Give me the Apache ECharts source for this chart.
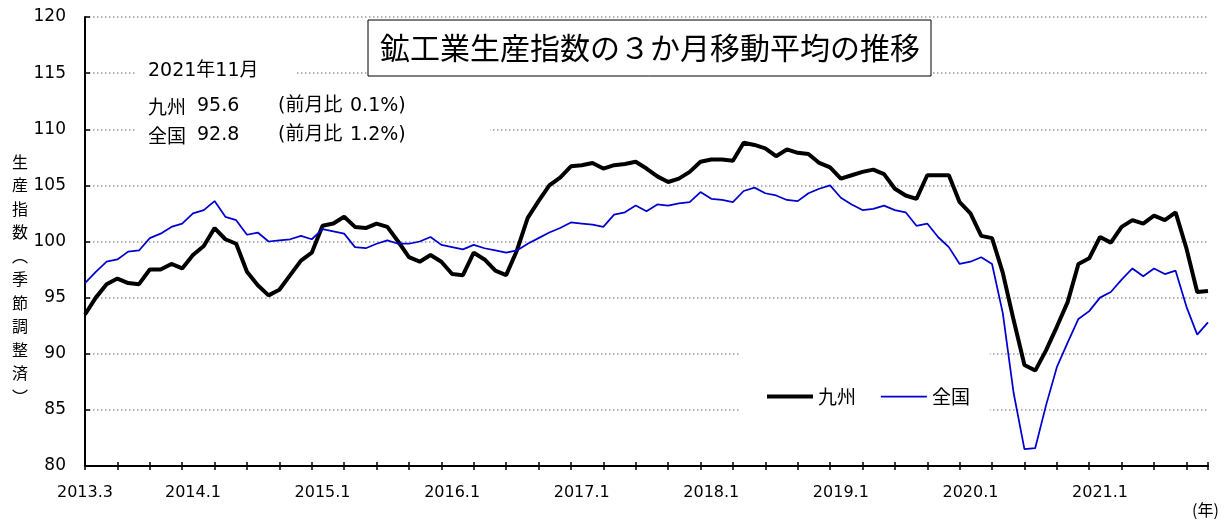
<!DOCTYPE html>
<html>
<head>
<meta charset="utf-8">
<title>鉱工業生産指数の３か月移動平均の推移</title>
<script src="https://cdn.jsdelivr.net/npm/echarts@6/dist/echarts.min.js"></script>
<style>
  html, body { margin: 0; padding: 0; background: #fff; }
  #chart { width: 1224px; height: 522px; }
</style>
</head>
<body>
<div id="chart"></div>
<script>
// 2013.3 〜 2021.11 の月次
const months = [];
for (let y = 2013; y <= 2021; y++) {
  for (let m = 1; m <= 12; m++) {
    if (y === 2013 && m < 3) continue;
    if (y === 2021 && m > 11) continue;
    months.push(y + '.' + m);
  }
}

// 九州（3か月移動平均）
const kyushu = [
  93.5, 95.0, 96.2, 96.7, 96.3, 96.2, 97.5, 97.5, 98.0, 97.6,
  98.8, 99.6, 101.2, 100.2, 99.8, 97.3, 96.1, 95.2, 95.7, 97.0,
  98.3, 99.0, 101.4, 101.6, 102.2, 101.3, 101.2, 101.6, 101.3, 100.0,
  98.6, 98.2, 98.8, 98.2, 97.1, 97.0, 99.0, 98.4, 97.4, 97.0,
  99.2, 102.1, 103.6, 105.0, 105.7, 106.7, 106.8, 107.0, 106.5, 106.8,
  106.9, 107.1, 106.5, 105.8, 105.3, 105.6, 106.2, 107.1, 107.3, 107.3,
  107.2, 108.8, 108.6, 108.3, 107.6, 108.2, 107.9, 107.8, 107.0, 106.6,
  105.6, 105.9, 106.2, 106.4, 106.0, 104.7, 104.1, 103.8, 105.9, 105.9,
  105.9, 103.5, 102.5, 100.5, 100.3, 97.2, 93.0, 89.0, 88.5, 90.3,
  92.4, 94.6, 98.0, 98.5, 100.4, 99.9, 101.3, 101.9, 101.6, 102.3,
  101.9, 102.6, 99.4, 95.5, 95.6
];

// 全国（3か月移動平均）
const zenkoku = [
  96.3, 97.3, 98.2, 98.4, 99.1, 99.2, 100.3, 100.7, 101.3, 101.6,
  102.5, 102.8, 103.6, 102.2, 101.9, 100.6, 100.8, 100.0, 100.1, 100.2,
  100.5, 100.2, 101.1, 100.9, 100.7, 99.5, 99.4, 99.8, 100.1, 99.8,
  99.8, 100.0, 100.4, 99.7, 99.5, 99.3, 99.7, 99.4, 99.2, 99.0,
  99.2, 99.8, 100.3, 100.8, 101.2, 101.7, 101.6, 101.5, 101.3, 102.4,
  102.6, 103.2, 102.7, 103.3, 103.2, 103.4, 103.5, 104.4, 103.8, 103.7,
  103.5, 104.5, 104.8, 104.3, 104.1, 103.7, 103.6, 104.3, 104.7, 105.0,
  103.9, 103.3, 102.8, 102.9, 103.2, 102.8, 102.6, 101.4, 101.6, 100.4,
  99.5, 98.0, 98.2, 98.6, 98.0, 93.6, 86.5, 81.5, 81.6, 85.4,
  88.8, 91.0, 93.1, 93.8, 95.0, 95.5, 96.6, 97.6, 96.9, 97.6,
  97.1, 97.4, 94.2, 91.7, 92.8
];

// 最新月の注記
const latestLabel = '2021年11月';
const noteNames = ['九州', '全国'];
const noteValues = ['95.6', '92.8'];
const noteChanges = ['0.1%)', '1.2%)'];

const FONT = "'DejaVu Sans', 'Noto Sans CJK JP', sans-serif";
const JP = "'Noto Sans CJK JP', sans-serif";

const chart = echarts.init(document.getElementById('chart'));

const notes = [];
noteNames.forEach((name, i) => {
  const y = 108 + i * 29;
  notes.push(
    { type: 'text', left: 148, top: y - 11, z: 10, style: { text: name, font: '19px ' + JP, fill: '#000' } },
    { type: 'text', left: 197, top: y - 11, z: 10, style: { text: noteValues[i], font: '19px ' + FONT, fill: '#000' } },
    { type: 'text', left: 278, top: y - 11, z: 10, style: { text: '(前月比', font: '19px ' + FONT, fill: '#000' } },
    { type: 'text', left: 350, top: y - 11, z: 10, style: { text: noteChanges[i], font: '19px ' + FONT, fill: '#000' } }
  );
});

chart.setOption({
  animation: false,
  grid: { left: 85, right: 16, top: 17, bottom: 56 },
  legend: {
    data: [
      { name: '九州', lineStyle: { width: 4, color: '#000' } },
      { name: '全国', lineStyle: { width: 1.75, color: '#0000d0' } },
    ],
    left: 740,
    top: 340,
    padding: [47, 20, 22, 25],
    backgroundColor: '#fff',
    itemWidth: 46,
    itemHeight: 14,
    itemGap: 24,
    itemStyle: { opacity: 0 },
    textStyle: { fontSize: 19, fontFamily: JP, color: '#000' },
  },
  xAxis: [{
    type: 'category',
    data: months,
    boundaryGap: false,
    axisLine: { lineStyle: { color: '#000', width: 2 } },
    axisTick: {
      length: 4,
      interval: (i) => i % 3 === 0 || i === months.length - 1,
      lineStyle: { color: '#000', width: 1.5 },
    },
    axisLabel: {
      interval: (i) => i === 0 || (i - 10) % 12 === 0,
      margin: 19,
      fontSize: 16,
      fontFamily: FONT,
      color: '#000',
    },
  }, {
    type: 'category',
    data: months,
    boundaryGap: false,
    position: 'bottom',
    axisLine: { show: false },
    axisTick: {
      inside: true,
      length: 4,
      interval: (i) => i % 3 === 0 || i === months.length - 1,
      lineStyle: { color: '#000', width: 1.5 },
    },
    axisLabel: { show: false },
  }],
  yAxis: {
    type: 'value',
    min: 80,
    max: 120,
    interval: 5,
    axisLine: { show: true, lineStyle: { color: '#000', width: 2 } },
    axisTick: { show: true, inside: true, length: 5, lineStyle: { color: '#000', width: 1.5 } },
    axisLabel: { margin: 19, fontSize: 17, fontFamily: FONT, color: '#000' },
    splitLine: { lineStyle: { color: '#999', width: 1.5, type: [1.5, 2.5] } },
  },
  graphic: [
    // 注記の白抜き
    { type: 'rect', shape: { x: 135, y: 58, width: 160, height: 28 }, z: 5, style: { fill: '#fff' } },
    { type: 'rect', shape: { x: 135, y: 92, width: 355, height: 60 }, z: 5, style: { fill: '#fff' } },
    { type: 'text', left: 148, top: 62, z: 10, style: { text: latestLabel, font: '19px ' + FONT, fill: '#000' } },
    ...notes,
    // タイトル枠
    {
      type: 'rect', shape: { x: 368, y: 20, width: 563, height: 56 }, z: 5,
      style: { fill: '#fff', stroke: '#000', lineWidth: 1 },
    },
    {
      type: 'text', x: 650, y: 48, z: 10,
      style: {
        text: '鉱工業生産指数の３か月移動平均の推移',
        font: '30px ' + JP, fill: '#000', align: 'center', verticalAlign: 'middle',
      },
    },
    // 縦軸タイトル
    {
      type: 'text', x: 20, y: 150, z: 10,
      style: {
        text: '生\n産\n指\n数\n︵\n季\n節\n調\n整\n済\n︶',
        font: '16px ' + JP, lineHeight: 23.5, fill: '#000', align: 'center',
      },
    },
    { type: 'text', left: 1192, top: 502, z: 10, style: { text: '(年)', font: '16px ' + JP, fill: '#000' } },
  ],
  series: [
    {
      name: '九州',
      type: 'line',
      data: kyushu,
      symbol: 'none',
      lineStyle: { color: '#000', width: 4 },
      itemStyle: { color: '#000' },
      z: 3,
    },
    {
      name: '全国',
      type: 'line',
      data: zenkoku,
      symbol: 'none',
      lineStyle: { color: '#0000d0', width: 1.75 },
      itemStyle: { color: '#0000d0' },
      z: 4,
    },
  ],
});
</script>
</body>
</html>
